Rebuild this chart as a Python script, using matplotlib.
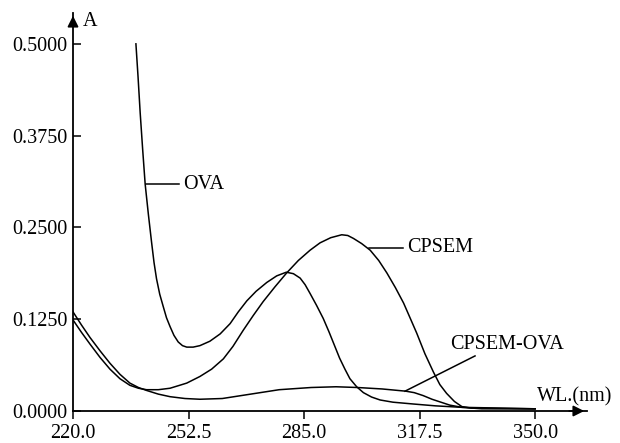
import numpy as np
import matplotlib.pyplot as plt

plt.rcParams["font.family"] = ["Liberation Serif", "DejaVu Serif"]
plt.rcParams["font.size"] = 14.5

# absorbance spectra, wavelength (nm) vs A
ova_wl = [237.7, 238.3, 238.9, 239.6, 240.3, 241.2, 242.1, 242.8, 243.5, 244.4,
          245.4, 246.3, 247.3, 248.4, 249.6, 250.8, 252.0, 253.8, 255.7, 258.5,
          261.4, 264.2, 266.5, 268.9, 271.5, 274.5, 277.3, 280.0, 282.0, 283.9,
          285.3, 286.7, 288.5, 290.4, 292.0, 293.5, 295.0, 296.5, 297.9, 299.8,
          301.7, 304.0, 306.4, 310.0, 315.8, 322.0, 329.4, 340.0, 350.0]
ova_a = [0.500, 0.455, 0.406, 0.356, 0.309, 0.268, 0.230, 0.202, 0.180, 0.159,
         0.142, 0.127, 0.115, 0.103, 0.094, 0.089, 0.087, 0.087, 0.089, 0.095,
         0.105, 0.119, 0.135, 0.150, 0.163, 0.175, 0.184, 0.189, 0.187, 0.181,
         0.172, 0.160, 0.144, 0.126, 0.108, 0.090, 0.072, 0.057, 0.044, 0.033,
         0.025, 0.019, 0.015, 0.012, 0.0095, 0.007, 0.005, 0.004, 0.003]

cpsem_wl = [220.0, 222.4, 224.8, 227.6, 230.4, 233.2, 236.0, 238.4, 240.7, 244.0,
            247.3, 250.0, 252.0, 255.7, 259.0, 262.3, 265.0, 267.9, 270.7, 273.5,
            276.8, 280.1, 283.4, 286.7, 289.5, 292.5, 295.6, 297.3, 298.9, 301.2,
            303.6, 306.0, 308.3, 310.7, 313.0, 314.9, 316.7, 319.0, 321.4, 323.2,
            325.1, 327.3, 329.4, 332.0, 340.0, 350.0]
cpsem_a = [0.124, 0.107, 0.091, 0.073, 0.057, 0.044, 0.035, 0.031, 0.029, 0.029,
           0.031, 0.035, 0.038, 0.047, 0.057, 0.071, 0.088, 0.110, 0.130, 0.149,
           0.169, 0.188, 0.205, 0.219, 0.229, 0.236, 0.240, 0.239, 0.235, 0.228,
           0.219, 0.205, 0.188, 0.168, 0.147, 0.126, 0.106, 0.078, 0.053, 0.036,
           0.024, 0.013, 0.006, 0.004, 0.0035, 0.003]

mix_wl = [220.0, 222.4, 224.8, 227.6, 230.4, 233.2, 236.0, 238.4, 240.7, 244.0,
          247.3, 251.5, 255.7, 262.0, 270.0, 278.0, 287.0, 294.0, 300.0, 307.0,
          313.6, 316.0, 318.5, 321.0, 323.5, 326.0, 329.4, 335.0, 350.0]
mix_a = [0.135, 0.117, 0.100, 0.082, 0.065, 0.050, 0.038, 0.032, 0.028, 0.023,
         0.0195, 0.017, 0.016, 0.017, 0.023, 0.029, 0.032, 0.033, 0.032, 0.030,
         0.027, 0.025, 0.021, 0.016, 0.012, 0.008, 0.005, 0.003, 0.003]

x_ticks = [220.0, 252.5, 285.0, 317.5, 350.0]
y_ticks = [0.0, 0.125, 0.25, 0.375, 0.5]


def main() -> None:
    fig = plt.figure(figsize=(6.2, 4.43), dpi=100)
    ax = fig.add_axes([73 / 620, 32 / 443, 514 / 620, 398 / 443])

    for wl, a in [(ova_wl, ova_a), (cpsem_wl, cpsem_a), (mix_wl, mix_a)]:
        ax.plot(wl, a, color="black", lw=1.1, solid_joinstyle="round")

    ax.set_xlim(220, 364.6)
    ax.set_ylim(0, 0.542)
    ax.set_xticks(x_ticks)
    ax.set_xticklabels([f"{v:.1f}" for v in x_ticks])
    ax.set_yticks(y_ticks)
    ax.set_yticklabels([f"{v:.4f}" for v in y_ticks])
    ax.tick_params(axis="x", direction="out", length=6, width=1.1, pad=3)
    ax.tick_params(axis="y", direction="in", length=6, width=1.1, pad=4)

    for side in ("top", "right"):
        ax.spines[side].set_visible(False)
    for side in ("left", "bottom"):
        ax.spines[side].set_linewidth(1.3)

    # arrow heads on the axes
    arrow = dict(arrowstyle="-|>", color="black", lw=1.3, mutation_scale=16)
    ax.annotate("", xy=(0, 1), xytext=(0, 0.96), xycoords="axes fraction",
                arrowprops=arrow, annotation_clip=False)
    ax.annotate("", xy=(1, 0), xytext=(0.96, 0), xycoords="axes fraction",
                arrowprops=arrow, annotation_clip=False)

    ax.text(222.8, 0.530, "A", va="center", ha="left")
    ax.text(350.6, 0.019, "WL.(nm)", va="center", ha="left")

    # curve labels with leader lines
    ax.plot([240.5, 249.8], [0.309, 0.309], color="black", lw=1.1)
    ax.text(250.9, 0.309, "OVA", va="center", ha="left")
    ax.plot([303.3, 312.9], [0.222, 0.222], color="black", lw=1.1)
    ax.text(314.0, 0.222, "CPSEM", va="center", ha="left")
    ax.plot([313.4, 333.1], [0.027, 0.075], color="black", lw=1.1)
    ax.text(326.1, 0.090, "CPSEM-OVA", va="center", ha="left")

    fig.savefig("out.png", dpi=100)


if __name__ == "__main__":
    main()
